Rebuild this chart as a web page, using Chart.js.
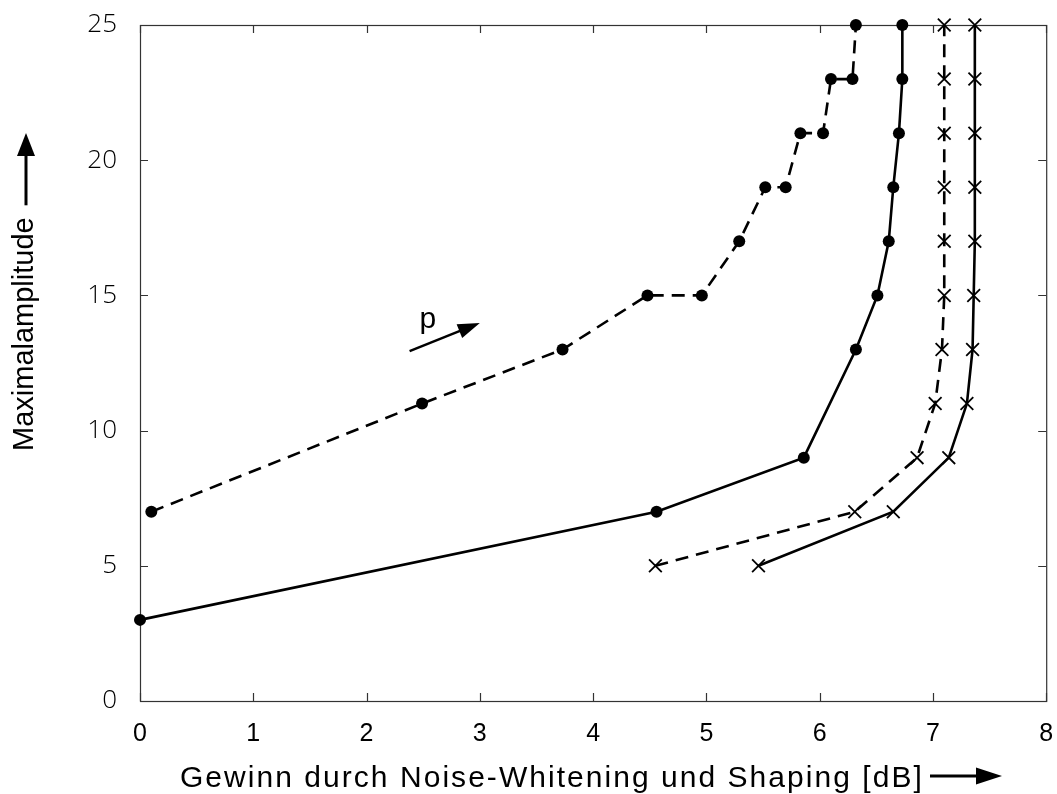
<!DOCTYPE html>
<html>
<head>
<meta charset="utf-8">
<script src="https://cdn.jsdelivr.net/npm/chart.js@4.4.1/dist/chart.umd.min.js"></script>
<style>
  html, body { margin: 0; padding: 0; background: #fff; }
  #wrap { width: 1057px; height: 794px; position: relative; }
</style>
</head>
<body>
<div id="wrap"><canvas id="c"></canvas></div>
<script>
// ---- data ----
const dashDotX = [0.10, 2.49, 3.73, 4.48, 4.96, 5.29, 5.52, 5.70, 5.83, 6.03, 6.10, 6.29, 6.32];
const dashDotY = [7, 11, 13, 15, 15, 17, 19, 19, 21, 21, 23, 23, 25];
const solidDotX = [0.00, 4.56, 5.86, 6.32, 6.51, 6.61, 6.65, 6.70, 6.73, 6.73];
const solidDotY = [3, 7, 9, 13, 15, 17, 19, 21, 23, 25];
const crossY = [5, 7, 9, 11, 13, 15, 17, 19, 21, 23, 25];
const dashCrossX = [4.55, 6.31, 6.86, 7.02, 7.08, 7.10, 7.10, 7.10, 7.10, 7.10, 7.10];
const solidCrossX = [5.46, 6.65, 7.14, 7.30, 7.35, 7.36, 7.37, 7.37, 7.37, 7.37, 7.37];

const xTicks = [0, 1, 2, 3, 4, 5, 6, 7, 8];
const yTicks = [0, 5, 10, 15, 20, 25];
const xTitle = 'Gewinn durch Noise-Whitening und Shaping [dB]';
const yTitle = 'Maximalamplitude';
const annoText = 'p';
const annoTextPos = [2.54, 13.8];
const annoArrowFrom = [2.38, 12.94];
const annoArrowTo = [3.0, 13.98];

function pts(xs, ys) { return xs.map((x, i) => ({ x: x, y: ys[i] })); }

function arrowHead(ctx, x1, y1, x2, y2, len, w) {
  const a = Math.atan2(y2 - y1, x2 - x1);
  ctx.beginPath();
  ctx.moveTo(x2, y2);
  ctx.lineTo(x2 - len * Math.cos(a) + w / 2 * Math.sin(a), y2 - len * Math.sin(a) - w / 2 * Math.cos(a));
  ctx.lineTo(x2 - len * Math.cos(a) - w / 2 * Math.sin(a), y2 - len * Math.sin(a) + w / 2 * Math.cos(a));
  ctx.closePath();
  ctx.fill();
}

const framePlugin = {
  id: 'frame',
  beforeDatasetsDraw(chart) {
    const { ctx, chartArea: a, scales } = chart;
    ctx.save();
    ctx.strokeStyle = '#333';
    ctx.lineWidth = 1.2;
    ctx.strokeRect(a.left + 0.5, a.top + 0.5, a.right - a.left, a.bottom - a.top);
    const tl = 8;
    ctx.beginPath();
    xTicks.forEach(v => {
      const px = Math.round(scales.x.getPixelForValue(v)) + 0.5;
      ctx.moveTo(px, a.bottom); ctx.lineTo(px, a.bottom - tl);
      ctx.moveTo(px, a.top); ctx.lineTo(px, a.top + tl);
    });
    yTicks.forEach(v => {
      const py = Math.round(scales.y.getPixelForValue(v)) + 0.5;
      ctx.moveTo(a.left, py); ctx.lineTo(a.left + tl, py);
      ctx.moveTo(a.right, py); ctx.lineTo(a.right - tl, py);
    });
    ctx.stroke();
    ctx.restore();
  },
  afterDraw(chart) {
    const { ctx, scales } = chart;
    ctx.save();
    ctx.fillStyle = '#000';
    ctx.strokeStyle = '#000';
    // x title with spacing
    ctx.font = '30px "Liberation Sans Narrow", "Liberation Sans", sans-serif';
    ctx.textBaseline = 'alphabetic';
    ctx.textAlign = 'left';
    const targetW = 742;
    const w0 = ctx.measureText(xTitle).width;
    const sp = (targetW - w0) / (xTitle.length - 1);
    if ('letterSpacing' in ctx) {
      ctx.letterSpacing = sp.toFixed(2) + 'px';
      ctx.fillText(xTitle, 180, 787);
      ctx.letterSpacing = '0px';
    } else {
      let x = 180;
      for (const ch of xTitle) { ctx.fillText(ch, x, 787); x += ctx.measureText(ch).width + sp; }
    }
    // x title arrow
    ctx.lineWidth = 3;
    ctx.beginPath(); ctx.moveTo(930, 776); ctx.lineTo(980, 776); ctx.stroke();
    arrowHead(ctx, 930, 776, 1002, 776, 26, 17);

    // y title
    ctx.save();
    ctx.translate(33, 451);
    ctx.rotate(-Math.PI / 2);
    ctx.font = '29px "Liberation Sans", Arial, sans-serif';
    ctx.textAlign = 'left';
    ctx.textBaseline = 'alphabetic';
    ctx.fillText(yTitle, 0, 0);
    const yw = ctx.measureText(yTitle).width;
    const tip = 451 - 133;
    ctx.lineWidth = 3;
    ctx.beginPath(); ctx.moveTo(yw + 12, -7); ctx.lineTo(tip - 20, -7); ctx.stroke();
    arrowHead(ctx, yw + 12, -7, tip, -7, 23, 18);
    ctx.restore();

    // annotation p with arrow
    const tx = scales.x.getPixelForValue(annoTextPos[0]);
    const ty = scales.y.getPixelForValue(annoTextPos[1]);
    ctx.font = '30px "Liberation Sans Narrow", "Liberation Sans", sans-serif';
    ctx.textAlign = 'center';
    ctx.fillText(annoText, tx, ty);
    const ax1 = scales.x.getPixelForValue(annoArrowFrom[0]);
    const ay1 = scales.y.getPixelForValue(annoArrowFrom[1]);
    const ax2 = scales.x.getPixelForValue(annoArrowTo[0]);
    const ay2 = scales.y.getPixelForValue(annoArrowTo[1]);
    ctx.lineWidth = 2.5;
    const ang = Math.atan2(ay2 - ay1, ax2 - ax1);
    ctx.beginPath(); ctx.moveTo(ax1, ay1); ctx.lineTo(ax2 - 18 * Math.cos(ang), ay2 - 18 * Math.sin(ang)); ctx.stroke();
    arrowHead(ctx, ax1, ay1, ax2, ay2, 22, 15);
    ctx.restore();
  }
};

const common = { showLine: true, borderColor: '#000', backgroundColor: '#000', borderWidth: 2.6, clip: false, pointBorderColor: '#000', pointBackgroundColor: '#000' };

new Chart(document.getElementById('c'), {
  type: 'scatter',
  data: {
    datasets: [
      Object.assign({}, common, { label: 'dashDot', data: pts(dashDotX, dashDotY), borderDash: [13, 8], pointStyle: 'circle', pointRadius: 6, pointBorderWidth: 0 }),
      Object.assign({}, common, { label: 'solidDot', data: pts(solidDotX, solidDotY), pointStyle: 'circle', pointRadius: 6, pointBorderWidth: 0 }),
      Object.assign({}, common, { label: 'dashCross', data: pts(dashCrossX, crossY), borderDash: [13, 8], pointStyle: 'crossRot', pointRadius: 9, pointBorderWidth: 1.8 }),
      Object.assign({}, common, { label: 'solidCross', data: pts(solidCrossX, crossY), pointStyle: 'crossRot', pointRadius: 9, pointBorderWidth: 1.8 })
    ]
  },
  options: {
    responsive: true,
    maintainAspectRatio: false,
    animation: false,
    layout: { padding: { left: 0, right: 10, top: 25, bottom: 0 } },
    plugins: { legend: { display: false }, tooltip: { enabled: false } },
    elements: { line: { tension: 0 } },
    scales: {
      x: {
        type: 'linear', min: 0, max: 8,
        afterFit(s) { s.height = 93; s.paddingLeft = 0; s.paddingRight = 0; },
        afterBuildTicks(s) { s.ticks = xTicks.map(v => ({ value: v })); },
        grid: { display: false },
        border: { display: false },
        ticks: { padding: 10, color: '#000', font: { family: '"Liberation Sans Narrow", "Liberation Sans", sans-serif', size: 25 } }
      },
      y: {
        type: 'linear', min: 0, max: 25,
        afterFit(s) { s.width = 140; s.paddingTop = 0; s.paddingBottom = 0; },
        afterBuildTicks(s) { s.ticks = yTicks.map(v => ({ value: v })); },
        grid: { display: false },
        border: { display: false },
        ticks: { padding: 15, color: '#000', font: { family: '"Open Sans", "DejaVu Sans", sans-serif', size: 26, weight: 300 } }
      }
    }
  },
  plugins: [framePlugin]
});
</script>
</body>
</html>
